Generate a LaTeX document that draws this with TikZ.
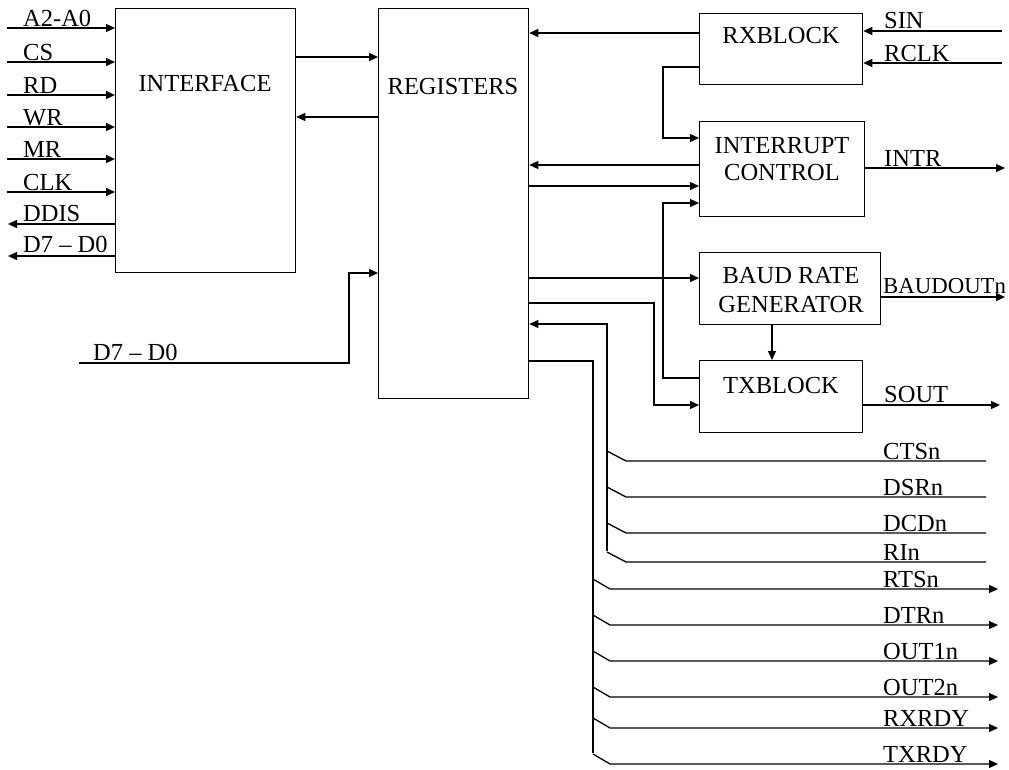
\documentclass[tikz,border=0pt]{standalone}
\usepackage{fontspec}
\setmainfont{Liberation Serif}
\usetikzlibrary{arrows.meta}
\begin{document}
\begin{tikzpicture}[x=1pt,y=-1pt,
 blk/.style={draw,line width=1.3pt,anchor=north west,inner sep=0pt},
 arr/.style={line width=1.3pt,-{Triangle[length=9pt,width=8pt]}},
 ln/.style={line width=1.3pt},
 lbl/.style={anchor=base west,inner sep=0pt,font=\fontsize{24.5}{26}\selectfont},
 txt/.style={anchor=base,inner sep=0pt,font=\fontsize{24.5}{26}\selectfont}]
\useasboundingbox (0,0) rectangle (1009,769);
% blocks
\node[blk,minimum width=180pt,minimum height=264pt] (iface) at (115,8) {};
\node[blk,minimum width=150pt,minimum height=390pt] (reg) at (378,8) {};
\node[blk,minimum width=163pt,minimum height=71pt] (rx) at (699,13) {};
\node[blk,minimum width=165pt,minimum height=95pt] (ic) at (699,121) {};
\node[blk,minimum width=181pt,minimum height=72pt] (baud) at (699,252) {};
\node[blk,minimum width=163pt,minimum height=72pt] (tx) at (699,360) {};
% block texts
\node[txt] (tIface) at (205,91) {INTERFACE};
\node[txt] (tReg) at (453,94) {REGISTERS};
\node[txt] (tRx) at (781,43) {RXBLOCK};
\node[txt] (tIc1) at (782,153) {INTERRUPT};
\node[txt] (tIc2) at (782,180) {CONTROL};
\node[txt] (tBaud1) at (791,283) {BAUD RATE};
\node[txt] (tBaud2) at (791,312) {GENERATOR};
\node[txt] (tTx) at (781,393) {TXBLOCK};
% left inputs
\foreach \y/\t [count=\i] in {28/A2-A0,62/CS,95/RD,127/WR,159/MR,192/CLK} {
  \coordinate (in\i) at (7,\y);
  \draw[arr] (in\i) -- (iface.west |- in\i);
  \node[lbl] (lin\i) at (23,\y-2) {\t};
}
% left outputs
\coordinate (ddis) at (8,224);
\coordinate (dout) at (8,256);
\draw[arr] (iface.west |- ddis) -- (ddis);
\draw[arr] (iface.west |- dout) -- (dout);
\node[lbl] (lddis) at (23,221) {DDIS};
\node[lbl] (ldout) at (23,252) {D7 – D0};
% interface <-> registers
\draw[arr] (iface.east |- 0,57) -- (reg.west |- 0,57);
\draw[arr] (reg.west |- 0,117) -- (iface.east |- 0,117);
% bottom data in
\coordinate (din) at (79,363);
\draw[arr] (din) -- (349,363) -- (349,273) -- (reg.west |- 0,273);
\node[lbl] (ldin) at (93,360) {D7 – D0};
% RX block
\draw[arr] (rx.west |- 0,33) -- (reg.east |- 0,33);
\coordinate (sin) at (1002,31);
\coordinate (rclk) at (1002,63);
\draw[arr] (sin) -- (rx.east |- sin);
\draw[arr] (rclk) -- (rx.east |- rclk);
\node[lbl] (lsin) at (884,28) {SIN};
\node[lbl] (lrclk) at (884,61) {RCLK};
\draw[arr] (rx.west |- 0,67) -- (663,67) -- (663,138) -- (ic.west |- 0,138);
% interrupt control
\draw[arr] (ic.west |- 0,165) -- (reg.east |- 0,165);
\draw[arr] (reg.east |- 0,186) -- (ic.west |- 0,186);
\draw[arr] (tx.west |- 0,378) -- (663,378) -- (663,203) -- (ic.west |- 0,203);
\coordinate (intr) at (1005,168);
\draw[arr] (ic.east |- intr) -- (intr);
\node[lbl] (lintr) at (884,166) {INTR};
% baud rate generator
\draw[arr] (reg.east |- 0,278) -- (baud.west |- 0,278);
\coordinate (bout) at (1005,297);
\draw[arr] (baud.east |- bout) -- (bout);
\node[lbl,font=\fontsize{22.8}{26}\selectfont] (lbout) at (883,293) {BAUDOUTn};
\draw[arr] (baud.south -| 772,0) -- (tx.north -| 772,0);
% tx block
\draw[arr] (reg.east |- 0,303) -- (654,303) -- (654,405) -- (tx.west |- 0,405);
\coordinate (sout) at (1000,405);
\draw[arr] (tx.east |- sout) -- (sout);
\node[lbl] (lsout) at (884,402) {SOUT};
% modem inputs
\draw[arr] (607,551) -- (607,324) -- (reg.east |- 0,324);
\foreach \y/\t [count=\i] in {461/CTSn,497/DSRn,533/DCDn,562/RIn} {
  \coordinate (mi\i) at (986,\y);
  \draw[ln] (mi\i) -- (626,\y) -- (607,\y-10);
  \node[lbl] (lmi\i) at (883,\y-2) {\t};
}
% outputs
\draw[ln] (reg.east |- 0,361) -- (593,361) -- (593,753);
\foreach \y/\t [count=\i] in {589/RTSn,625/DTRn,661/OUT1n,697/OUT2n,728/RXRDY,764/TXRDY} {
  \coordinate (mo\i) at (998,\y);
  \draw[arr] (593,\y-10) -- (610,\y) -- (mo\i);
  \node[lbl] (lmo\i) at (883,\y-2) {\t};
}
\end{tikzpicture}
\end{document}
